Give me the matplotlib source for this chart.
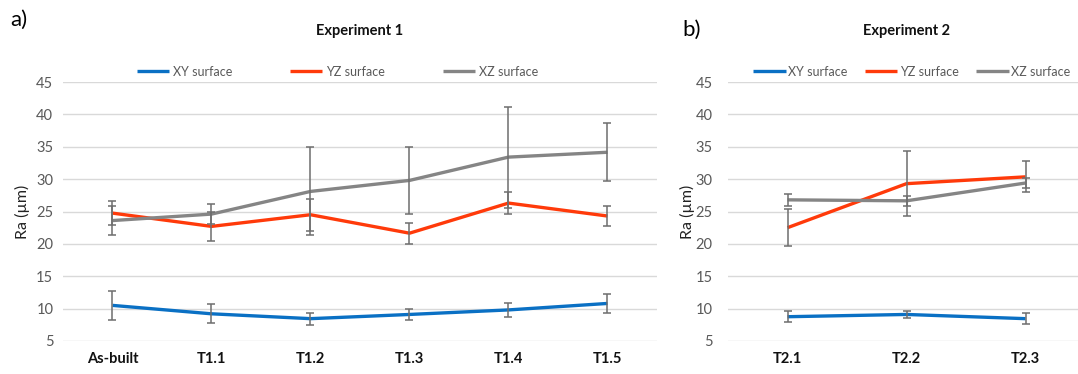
import matplotlib
matplotlib.use("Agg")
import matplotlib.pyplot as plt

plt.rcParams['font.family'] = ['Lato', 'DejaVu Sans']

# Experiment 1
cats1 = ['As-built', 'T1.1', 'T1.2', 'T1.3', 'T1.4', 'T1.5']
xy1 = [10.5, 9.2, 8.45, 9.1, 9.8, 10.8]
xy1_err = [2.25, 1.45, 0.95, 0.85, 1.05, 1.5]
yz1 = [24.75, 22.7, 24.5, 21.65, 26.3, 24.3]
yz1_err = [1.85, 2.3, 2.5, 1.65, 1.75, 1.55]
xz1 = [23.6, 24.6, 28.1, 29.8, 33.4, 34.15]
xz1_err = [2.3, 1.6, 6.8, 5.2, 7.8, 4.5]

# Experiment 2
cats2 = ['T2.1', 'T2.2', 'T2.3']
xy2 = [8.75, 9.1, 8.45]
xy2_err = [0.85, 0.5, 0.85]
yz2 = [22.5, 29.3, 30.35]
yz2_err = [2.85, 5.0, 2.4]
xz2 = [26.8, 26.65, 29.4]
xz2_err = [0.9, 0.8, 0.8]

labels = ['XY surface', 'YZ surface', 'XZ surface']
colors = ['#0A70C4', '#FF3A0A', '#858585']
err_color = '#6E6E6E'
text_grey = '#595959'

W, H = 1078, 374
fig = plt.figure(figsize=(W / 100, H / 100), dpi=100)


def draw(ax, cats, series, errs, title, ypad):
    x = list(range(len(cats)))
    for vals, err, c, lab in zip(series, errs, colors, labels):
        ax.plot(x, vals, color=c, lw=2.4, label=lab, zorder=3,
                solid_capstyle='butt')
        ax.errorbar(x, vals, yerr=err, fmt='none', ecolor=err_color,
                    elinewidth=1.1, capsize=3, capthick=1.1, zorder=4)
    ax.set_xlim(-0.5, len(cats) - 0.5)
    ax.set_ylim(5, 45)
    ax.set_yticks(range(5, 46, 5))
    ax.set_xticks(x)
    ax.set_xticklabels(cats, fontweight='bold', fontsize=10.5, color='#111111')
    ax.tick_params(axis='x', length=0, pad=8)
    ax.tick_params(axis='y', length=0, pad=ypad, labelsize=10.5, labelcolor=text_grey)
    ax.grid(axis='y', color='#D9D9D9', lw=1.0, zorder=0)
    for s in ax.spines.values():
        s.set_visible(False)
    ax.set_ylabel('Ra (µm)', fontsize=11.5, color='#222222')
    ax.set_title(title, fontweight='bold', fontsize=10.5, pad=34, color='#111111')


# left panel
ax1 = fig.add_axes([63 / W, (H - 341) / H, 594 / W, 259 / H])
draw(ax1, cats1, [xy1, yz1, xz1], [xy1_err, yz1_err, xz1_err], 'Experiment 1', 7)
ax1.yaxis.set_label_coords(-0.056, 0.5)
ax1.legend(loc='lower center', bbox_to_anchor=(0.462, 0.998), ncol=3,
           frameon=False, fontsize=9, labelcolor=text_grey, handlelength=2.6,
           handletextpad=0.3, columnspacing=4.6, borderaxespad=0)

# right panel, runs past the figure's right edge like the original crop
ax2 = fig.add_axes([728 / W, (H - 341) / H, 357 / W, 259 / H])
draw(ax2, cats2, [xy2, yz2, xz2], [xy2_err, yz2_err, xz2_err], 'Experiment 2', 11)
ax2.yaxis.set_label_coords(-0.093, 0.5)
ax2.legend(loc='lower center', bbox_to_anchor=(0.515, 0.998), ncol=3,
           frameon=False, fontsize=9, labelcolor=text_grey, handlelength=2.6,
           handletextpad=0.2, columnspacing=1.4, borderaxespad=0)

fig.text(10 / W, 1 - 20 / H, 'a)', fontsize=16, va='center', ha='left')
fig.text(682 / W, 1 - 30 / H, 'b)', fontsize=16, va='center', ha='left')

fig.savefig('out.png', dpi=100)
